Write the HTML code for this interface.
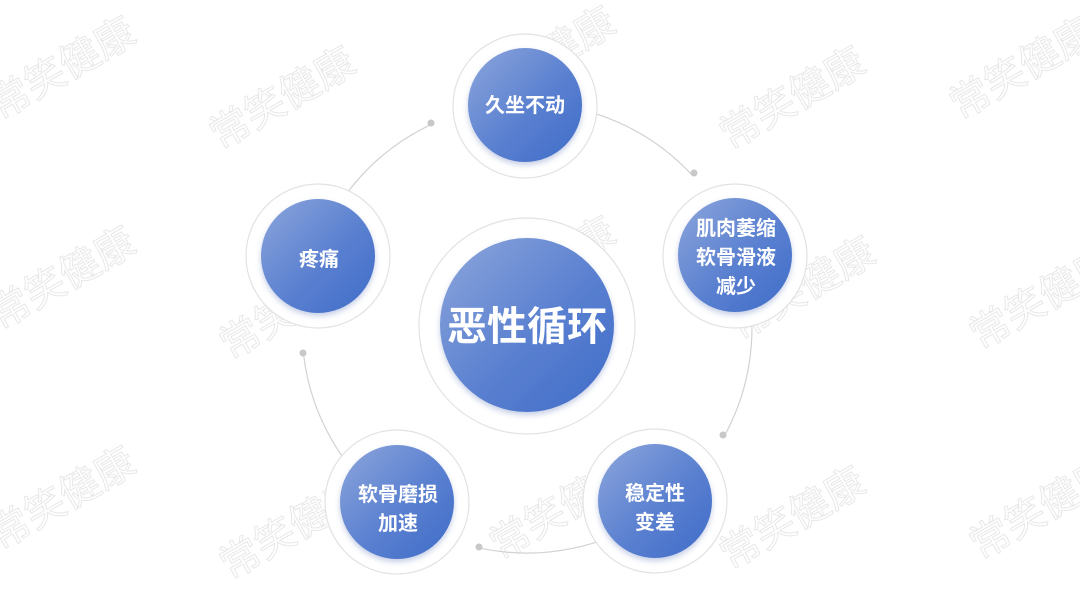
<!DOCTYPE html>
<html><head><meta charset="utf-8"><style>
html,body{margin:0;padding:0;background:#fff;}
body{width:1080px;height:608px;overflow:hidden;}
svg text{font-family:"Liberation Sans","Noto Sans CJK SC",sans-serif;font-weight:bold;fill:#fff;}
.wm{font-family:"Liberation Sans","Noto Sans CJK SC",sans-serif;font-size:40px;fill:none;stroke:#e8e8e8;stroke-width:1;font-weight:normal;}
</style></head><body>
<svg id="s" width="1080" height="608" viewBox="0 0 1080 608" xmlns="http://www.w3.org/2000/svg">
<defs>
<linearGradient id="g" x1="0" y1="0" x2="1" y2="1">
<stop offset="0" stop-color="#8da6dc"/><stop offset="0.55" stop-color="#5a80d0"/><stop offset="1" stop-color="#3f6cc8"/>
</linearGradient>
<filter id="sh" x="-20%" y="-20%" width="140%" height="140%"><feDropShadow dx="0" dy="3" stdDeviation="3" flood-color="#7f93c8" flood-opacity="0.45"/></filter>
</defs>
<g>
<text class="wm" transform="translate(0,120) rotate(-30)">常笑健康</text>
<text class="wm" transform="translate(220,150) rotate(-30)">常笑健康</text>
<text class="wm" transform="translate(480,110) rotate(-30)">常笑健康</text>
<text class="wm" transform="translate(730,150) rotate(-30)">常笑健康</text>
<text class="wm" transform="translate(960,120) rotate(-30)">常笑健康</text>
<text class="wm" transform="translate(0,330) rotate(-30)">常笑健康</text>
<text class="wm" transform="translate(230,360) rotate(-30)">常笑健康</text>
<text class="wm" transform="translate(480,320) rotate(-30)">常笑健康</text>
<text class="wm" transform="translate(740,340) rotate(-30)">常笑健康</text>
<text class="wm" transform="translate(980,350) rotate(-30)">常笑健康</text>
<text class="wm" transform="translate(0,550) rotate(-30)">常笑健康</text>
<text class="wm" transform="translate(230,580) rotate(-30)">常笑健康</text>
<text class="wm" transform="translate(500,560) rotate(-30)">常笑健康</text>
<text class="wm" transform="translate(730,570) rotate(-30)">常笑健康</text>
<text class="wm" transform="translate(980,560) rotate(-30)">常笑健康</text>
</g>
<g id="arcs" fill="none" stroke="#d2d2d2" stroke-width="1.2"></g>
<g fill="#c8c8c8">
<circle cx="431" cy="123" r="3.5"/><circle cx="694" cy="173" r="3.5"/><circle cx="723" cy="435" r="3.5"/><circle cx="479" cy="547" r="3.5"/><circle cx="303" cy="353" r="3.5"/>
</g>
<g stroke="#e2e2e2" stroke-width="1.2" fill="#fff">
<circle cx="527" cy="326" r="108"/>
<circle cx="525" cy="106" r="72"/>
<circle cx="735" cy="256" r="72"/>
<circle cx="655" cy="501" r="72"/>
<circle cx="397" cy="502" r="72"/>
<circle cx="318" cy="256" r="72"/>
</g>
<g fill="url(#g)" filter="url(#sh)">
<circle cx="527" cy="325" r="87"/>
<circle cx="525" cy="105" r="57"/>
<circle cx="735" cy="255" r="57"/>
<circle cx="655" cy="501" r="57"/>
<circle cx="397" cy="502" r="57"/>
<circle cx="318" cy="256" r="57"/>
</g>
<text x="527" y="340" font-size="40" text-anchor="middle">恶性循环</text>
<text x="525" y="112" font-size="20" text-anchor="middle">久坐不动</text>
<text x="736" y="235" font-size="20" text-anchor="middle">肌肉萎缩</text>
<text x="736" y="264" font-size="20" text-anchor="middle">软骨滑液</text>
<text x="736" y="293" font-size="20" text-anchor="middle">减少</text>
<text x="655" y="500" font-size="20" text-anchor="middle">稳定性</text>
<text x="655" y="529" font-size="20" text-anchor="middle">变差</text>
<text x="398" y="501" font-size="20" text-anchor="middle">软骨磨损</text>
<text x="398" y="530" font-size="20" text-anchor="middle">加速</text>
<text x="319" y="266" font-size="20" text-anchor="middle">疼痛</text>
</svg>
<script>
(function(){
var cx=527,cy=328,r=225,segs=[[-90.5,-42.9],[-19,28.6],[53.5,102.4],[126.8,173.6],[199,245]];
var g=document.getElementById('arcs'),d='';
segs.forEach(function(s){
var a=s[0]*Math.PI/180,b=s[1]*Math.PI/180;
d+='M'+(cx+r*Math.cos(a)).toFixed(1)+','+(cy+r*Math.sin(a)).toFixed(1)+' A'+r+','+r+' 0 0 1 '+(cx+r*Math.cos(b)).toFixed(1)+','+(cy+r*Math.sin(b)).toFixed(1)+' ';
});
var p=document.createElementNS('http://www.w3.org/2000/svg','path');p.setAttribute('d',d);g.appendChild(p);
})();
</script>
</body></html>
